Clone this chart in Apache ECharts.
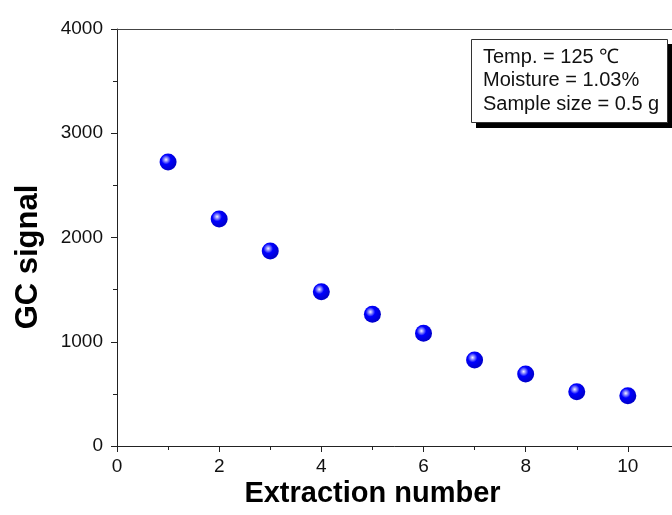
<!DOCTYPE html>
<html>
<head>
<meta charset="utf-8">
<script src="https://cdn.jsdelivr.net/npm/echarts@6/dist/echarts.min.js"></script>
<style>
html,body{margin:0;padding:0;background:#fff;}
#chart{width:672px;height:515px;}
</style>
</head>
<body>
<div id="chart"></div>
<script>
// Data
const extractionNumbers = [1, 2, 3, 4, 5, 6, 7, 8, 9, 10];
const gcSignal = [2724, 2177, 1871, 1480, 1263, 1081, 825, 691, 521, 483];
const xTickLabels = ['0', '2', '4', '6', '8', '10'];
const yTickLabels = ['0', '1000', '2000', '3000', '4000'];
const xAxisTitle = 'Extraction number';
const yAxisTitle = 'GC signal';
const noteLines = ['Temp. = 125 \u2103', 'Moisture = 1.03%', 'Sample size = 0.5 g'];

const FONT = "'Liberation Sans', Arial, Helvetica, sans-serif";
const chart = echarts.init(document.getElementById('chart'), null, {renderer: 'canvas'});

const sphere = {
  type: 'radial', x: 0.38, y: 0.36, r: 0.62,
  colorStops: [
    {offset: 0, color: '#f4f4ff'},
    {offset: 0.18, color: '#9090ff'},
    {offset: 0.45, color: '#0000ff'},
    {offset: 1, color: '#0000cc'}
  ]
};

const option = {
  backgroundColor: '#ffffff',
  animation: false,
  grid: {left: 117, top: 29, width: 613, height: 417, containLabel: false, outerBoundsMode: 'none'},
  xAxis: [{
    type: 'value', min: 0, max: 12, interval: 2,
    axisLine: {show: true, lineStyle: {color: '#222', width: 1}},
    axisTick: {show: true, inside: false, length: 6, lineStyle: {color: '#222'}},
    minorTick: {show: true, splitNumber: 2, length: 4, lineStyle: {color: '#222'}},
    splitLine: {show: false},
    axisLabel: {
      margin: 11, color: '#111', fontSize: 19, fontFamily: FONT,
      formatter: function (v) { return xTickLabels.indexOf(String(v)) >= 0 ? String(v) : ''; }
    }
  }, {
    type: 'value', min: 0, max: 12, position: 'top',
    axisLine: {show: true, onZero: false, lineStyle: {color: '#444', width: 1}},
    axisTick: {show: false}, axisLabel: {show: false}, splitLine: {show: false}
  }],
  yAxis: {
    type: 'value', min: 0, max: 4000, interval: 1000,
    axisLine: {show: true, lineStyle: {color: '#222', width: 1}},
    axisTick: {show: true, inside: false, length: 6, lineStyle: {color: '#222'}},
    minorTick: {show: true, splitNumber: 2, length: 4, lineStyle: {color: '#222'}},
    splitLine: {show: false},
    axisLabel: {
      margin: 14, color: '#111', fontSize: 19, fontFamily: FONT,
      formatter: function (v) { return yTickLabels.indexOf(String(v)) >= 0 ? String(v) : ''; }
    }
  },
  series: [{
    type: 'scatter',
    xAxisIndex: 0,
    symbol: 'circle',
    symbolSize: 17,
    data: extractionNumbers.map((x, i) => [x, gcSignal[i]]),
    itemStyle: {color: sphere, opacity: 1},
    emphasis: {disabled: true}
  }],
  graphic: [
    {
      type: 'text', silent: true,
      x: 372.5, y: 494,
      style: {text: xAxisTitle, font: 'bold 29px ' + FONT, fill: '#000', align: 'center', verticalAlign: 'middle'}
    },
    {
      type: 'text', silent: true,
      x: 28, y: 257, rotation: Math.PI / 2,
      style: {text: yAxisTitle, font: 'bold 31px ' + FONT, fill: '#000', align: 'center', verticalAlign: 'middle'}
    },
    {
      type: 'rect', silent: true,
      shape: {x: 476, y: 44, width: 197, height: 84},
      style: {fill: '#000', stroke: null}
    },
    {
      type: 'rect', silent: true,
      shape: {x: 471.5, y: 39.5, width: 196, height: 83},
      style: {fill: '#fff', stroke: '#333', lineWidth: 1}
    },
    {
      type: 'text', silent: true, x: 483, y: 57,
      style: {text: noteLines[0], font: '20px ' + FONT, fill: '#111', align: 'left', verticalAlign: 'middle'}
    },
    {
      type: 'text', silent: true, x: 483, y: 80.5,
      style: {text: noteLines[1], font: '20px ' + FONT, fill: '#111', align: 'left', verticalAlign: 'middle'}
    },
    {
      type: 'text', silent: true, x: 483, y: 104,
      style: {text: noteLines[2], font: '20px ' + FONT, fill: '#111', align: 'left', verticalAlign: 'middle'}
    }
  ]
};
chart.setOption(option);
</script>
</body>
</html>
